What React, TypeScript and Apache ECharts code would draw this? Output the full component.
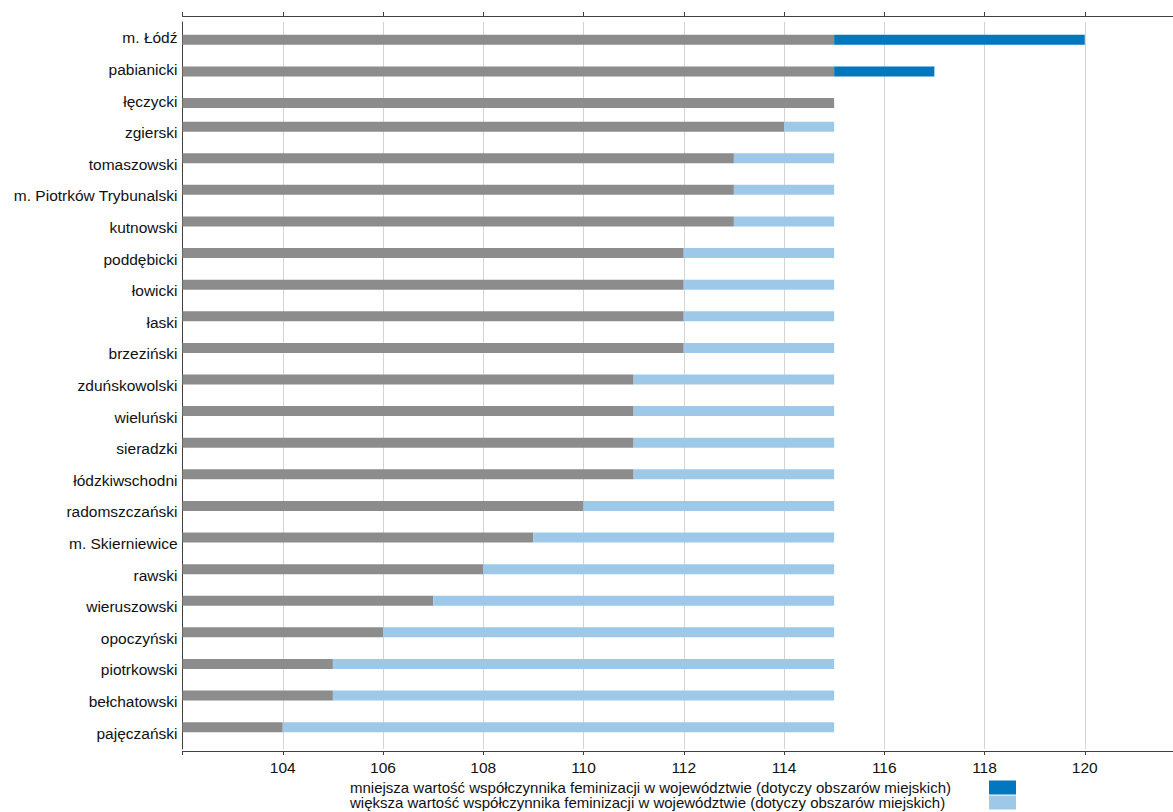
import React, { useEffect, useRef } from 'react';
import * as echarts from 'echarts';

const categories = [
  'm. Łódź', 'pabianicki', 'łęczycki', 'zgierski', 'tomaszowski', 'm. Piotrków Trybunalski',
  'kutnowski', 'poddębicki', 'łowicki', 'łaski', 'brzeziński', 'zduńskowolski', 'wieluński',
  'sieradzki', 'łódzkiwschodni', 'radomszczański', 'm. Skierniewice', 'rawski', 'wieruszowski',
  'opoczyński', 'piotrkowski', 'bełchatowski', 'pajęczański',
];
const values = [120, 117, 115, 114, 113, 113, 113, 112, 112, 112, 112, 111, 111, 111, 111, 110, 109, 108, 107, 106, 105, 105, 104];
const referenceValue = 115;
const legendNames = [
  'mniejsza wartość współczynnika feminizacji w województwie (dotyczy obszarów miejskich)',
  'większa wartość współczynnika feminizacji w województwie (dotyczy obszarów miejskich)',
];
const axisMin = 102;
const axisMax = 122;
const axisInterval = 2;
const upperGroupSize = 3;

const GREY = '#8c8c8c';
const DARK = '#0077be';
const LIGHT = '#9dc8e8';
const FONT = '"Liberation Sans", Arial, sans-serif';
const TEXT = '#111111';

function buildStack(stackId: string, upper: boolean) {
  const pick = (f: (v: number) => number | string) =>
    values.map((v, i) => ((i < upperGroupSize) === upper ? f(v) : '-'));
  const common = { type: 'bar', stack: stackId, barWidth: 10, barGap: '-20%', xAxisIndex: 0, yAxisIndex: 0 };
  return [
    { ...common, name: 'wartość', itemStyle: { color: GREY }, data: pick((v) => Math.min(v, referenceValue)) },
    { ...common, name: legendNames[1], itemStyle: { color: LIGHT }, data: pick((v) => (v < referenceValue ? referenceValue - v : '-')) },
    { ...common, name: legendNames[0], itemStyle: { color: DARK }, data: pick((v) => (v > referenceValue ? v - referenceValue : '-')) },
  ];
}

export default function App() {
  const ref = useRef<HTMLDivElement>(null);
  useEffect(() => {
    if (!ref.current) return;
    const chart = echarts.init(ref.current, null, { renderer: 'svg' });
    const labelFmt = (v: number) => (v < axisMin + 0.5 || v > 120.5 ? '' : String(v));
    chart.setOption({
      animation: false,
      textStyle: { fontFamily: FONT },
      grid: { left: 182.5, right: 0, top: 22, bottom: 63, containLabel: false },
      legend: {
        data: [
          { name: legendNames[0], itemStyle: { color: DARK } },
          { name: legendNames[1], itemStyle: { color: LIGHT } },
        ],
        orient: 'vertical',
        left: 350,
        top: 780,
        align: 'right',
        icon: 'rect',
        itemWidth: 27,
        itemHeight: 14,
        itemGap: 0,
        padding: 0,
        selectedMode: false,
        formatter: (name: string) => `{t|${name}}`,
        textStyle: {
          fontSize: 15, color: TEXT, fontFamily: FONT, lineHeight: 14,
          rich: { t: { width: 634, align: 'left', fontSize: 15, color: TEXT, fontFamily: FONT, lineHeight: 14 } },
        },
      },
      xAxis: [
        {
          type: 'value', position: 'bottom', offset: 2, min: axisMin, max: axisMax, interval: axisInterval,
          axisLine: { show: true, lineStyle: { color: '#404040', width: 1 } },
          axisTick: { show: true, length: 4, lineStyle: { color: '#404040' } },
          axisLabel: { show: true, margin: 8, fontSize: 15.5, color: TEXT, fontFamily: FONT, formatter: labelFmt },
          splitLine: { show: true, lineStyle: { color: '#d4d4d4', width: 1 } },
        },
        {
          type: 'value', position: 'top', offset: 6, min: axisMin, max: axisMax, interval: axisInterval,
          axisLine: { show: true, lineStyle: { color: '#404040', width: 1 } },
          axisTick: { show: true, length: 4, lineStyle: { color: '#404040' } },
          axisLabel: { show: false },
          splitLine: { show: false },
        },
      ],
      yAxis: {
        type: 'category', inverse: true, data: categories,
        axisLine: { show: true, lineStyle: { color: '#404040', width: 1 } },
        axisTick: { show: false },
        axisLabel: { margin: 5, fontSize: 15.5, color: TEXT, fontFamily: FONT },
        splitLine: { show: false },
      },
      series: [
        ...buildStack('lower', false),
        ...buildStack('upper', true),
        { type: 'bar', name: 'pad', stack: 'pad', barWidth: 6, barGap: '-20%', silent: true, data: categories.map(() => '-') },
      ],
    });
    return () => chart.dispose();
  }, []);
  return (
    <div style={{ position: 'absolute', left: 0, top: 0, width: 1173, height: 812, overflow: 'hidden' }}>
      <div ref={ref} style={{ position: 'absolute', left: 0, top: 0, width: 1188, height: 812 }} />
    </div>
  );
}
